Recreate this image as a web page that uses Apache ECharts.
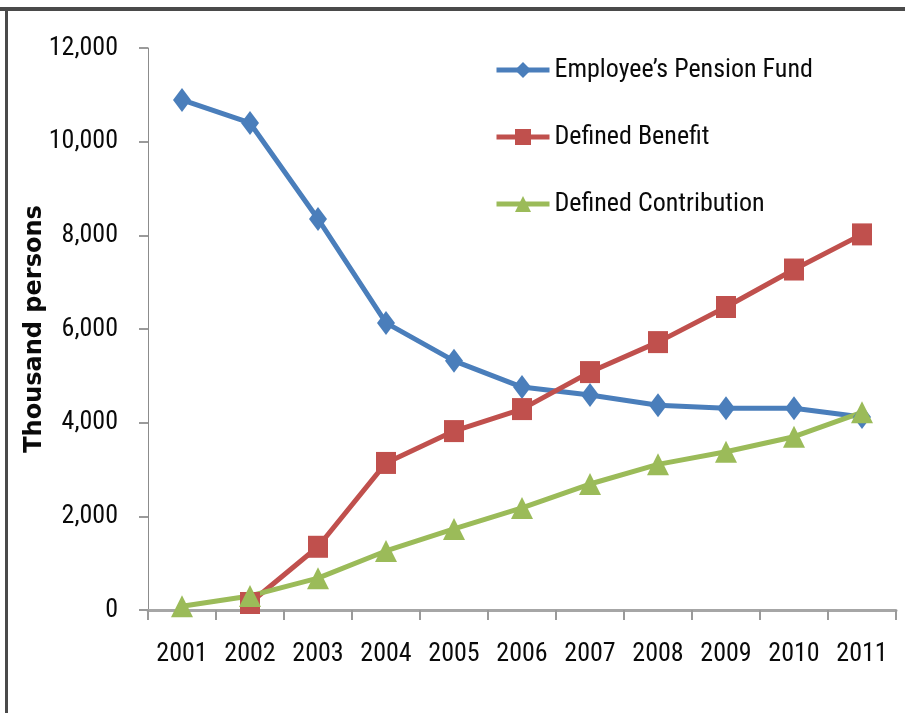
<!DOCTYPE html>
<html>
<head>
<meta charset="utf-8">
<script src="https://cdn.jsdelivr.net/npm/echarts@6/dist/echarts.min.js"></script>
<style>
  html, body { margin: 0; padding: 0; background: #fff; }
  #chart { width: 905px; height: 713px; }
</style>
</head>
<body>
<div id="chart"></div>
<script>
// Pension plan membership, thousand persons
const years = ['2001', '2002', '2003', '2004', '2005', '2006', '2007', '2008', '2009', '2010', '2011'];
const employeesPensionFund = [10890, 10400, 8350, 6130, 5320, 4760, 4590, 4370, 4310, 4310, 4120];
const definedBenefit = [null, 150, 1350, 3140, 3820, 4290, 5080, 5720, 6470, 7270, 8020];
const definedContribution = [80, 300, 680, 1260, 1730, 2180, 2690, 3110, 3380, 3700, 4220];
const yTicks = [0, 2000, 4000, 6000, 8000, 10000, 12000];

const narrow = "'Noto Sans Condensed', 'Roboto Condensed', 'Liberation Sans Narrow', 'DejaVu Sans Condensed', sans-serif";
const textSize = 26;

const chart = echarts.init(document.getElementById('chart'), null, { renderer: 'canvas' });

function lineSeries(name, data, color, symbol, size) {
  return {
    name: name,
    type: 'line',
    data: data,
    symbol: symbol,
    symbolSize: size,
    showSymbol: true,
    connectNulls: false,
    lineStyle: { color: color, width: 5 },
    itemStyle: { color: color },
    emphasis: { disabled: true },
    animation: false
  };
}

chart.setOption({
  backgroundColor: '#ffffff',
  animation: false,
  graphic: [
    // chart frame: top and left edges
    { type: 'rect', left: 0, top: 7, shape: { width: 905, height: 4 }, style: { fill: '#4a4a4a' }, silent: true },
    { type: 'rect', left: 5, top: 7, shape: { width: 3, height: 706 }, style: { fill: '#4a4a4a' }, silent: true }
  ],
  legend: {
    orient: 'vertical',
    left: 489,
    top: 50,
    itemWidth: 53,
    itemHeight: 20,
    itemGap: 37,
    selectedMode: false,
    lineStyle: { width: 5 },
    textStyle: { fontFamily: narrow, fontSize: textSize, color: '#0a0a0a', lineHeight: 30 },
    data: ['Employee\u2019s Pension Fund', 'Defined Benefit', 'Defined Contribution']
  },
  grid: { left: 148, right: 9, top: 48, bottom: 103, outerBoundsMode: 'none' },
  xAxis: {
    type: 'category',
    data: years,
    boundaryGap: true,
    axisLine: { show: true, lineStyle: { color: '#a6a6a6', width: 3 } },
    axisTick: { show: true, alignWithLabel: false, length: 10, lineStyle: { color: '#9a9a9a', width: 2 } },
    axisLabel: { fontFamily: narrow, fontSize: textSize, color: '#0a0a0a', margin: 31, interval: 0 },
    splitLine: { show: false }
  },
  yAxis: {
    type: 'value',
    min: yTicks[0],
    max: yTicks[yTicks.length - 1],
    interval: yTicks[1] - yTicks[0],
    name: 'Thousand persons',
    nameLocation: 'middle',
    nameGap: 101,
    nameRotate: 90,
    nameMoveOverlap: false,
    nameTextStyle: { fontFamily: "'DejaVu Sans', sans-serif", fontWeight: 'bold', fontSize: 24, color: '#0a0a0a' },
    axisLine: { show: true, lineStyle: { color: '#8c8c8c', width: 1 } },
    axisTick: { show: true, inside: false, length: 9, lineStyle: { color: '#9a9a9a', width: 2 } },
    axisLabel: {
      fontFamily: narrow, fontSize: textSize, color: '#0a0a0a', margin: 30,
      formatter: v => v.toLocaleString('en-US')
    },
    splitLine: { show: false }
  },
  series: [
    lineSeries('Employee\u2019s Pension Fund', employeesPensionFund, '#4a7ebb', 'diamond', [18, 24]),
    lineSeries('Defined Benefit', definedBenefit, '#c0504d', 'rect', [20, 22]),
    lineSeries('Defined Contribution', definedContribution, '#9bbb59', 'triangle', [22, 22])
  ]
});
</script>
</body>
</html>
